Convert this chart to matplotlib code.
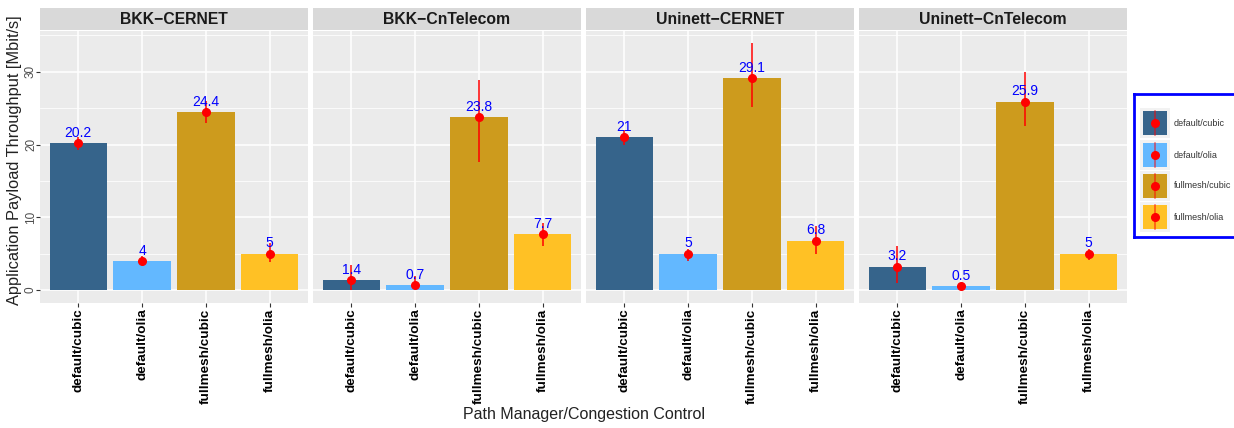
import matplotlib.pyplot as plt
import matplotlib.patches as mpatches
import numpy as np

plt.rcParams['font.family'] = ['Liberation Sans', 'DejaVu Sans']

paths = ["BKK\u2212CERNET", "BKK\u2212CnTelecom", "Uninett\u2212CERNET", "Uninett\u2212CnTelecom"]
configs = ["default/cubic", "default/olia", "fullmesh/cubic", "fullmesh/olia"]
colors = ["#36648B", "#63B8FF", "#CD9B1D", "#FFC125"]

# mean throughput per path, one value per config
mean_tp = [
    [20.2, 4.0, 24.4, 5.0],
    [1.4, 0.7, 23.8, 7.7],
    [21.0, 5.0, 29.1, 6.8],
    [3.2, 0.5, 25.9, 5.0],
]
# error bar ranges (low, high)
err_lo = [
    [19.2, 3.4, 22.9, 3.8],
    [0.0, 0.2, 17.6, 6.0],
    [19.9, 4.0, 25.1, 5.0],
    [1.0, 0.3, 22.6, 4.1],
]
err_hi = [
    [21.0, 4.7, 26.0, 6.4],
    [3.4, 1.9, 28.9, 9.2],
    [22.0, 5.7, 34.0, 8.8],
    [6.0, 0.7, 29.9, 5.7],
]
value_labels = [
    ["20.2", "4", "24.4", "5"],
    ["1.4", "0.7", "23.8", "7.7"],
    ["21", "5", "29.1", "6.8"],
    ["3.2", "0.5", "25.9", "5"],
]

W, H = 1234, 428
fig = plt.figure(figsize=(W / 100, H / 100), dpi=100)

def fx(px):
    return px / W

def fy(py):
    return 1 - py / H

panel_left = [40, 313, 586, 859]
panel_w = 268
top, strip_bot, plot_top, plot_bot = 8, 29.5, 31, 303

x = np.arange(len(configs))
for k, name in enumerate(paths):
    l = panel_left[k]
    ax = fig.add_axes([fx(l), fy(plot_bot), fx(panel_w), fy(plot_top) - fy(plot_bot)])
    ax.set_facecolor("#EBEBEB")
    for s in ax.spines.values():
        s.set_visible(False)
    ax.set_xlim(-0.6, 3.6)
    ax.set_ylim(-1.78, 35.6)
    ax.set_yticks([0, 10, 20, 30])
    ax.set_yticks([5, 15, 25, 35], minor=True)
    ax.set_xticks(x)
    ax.grid(True, which="major", color="white", linewidth=1.1)
    ax.grid(True, which="minor", axis="y", color="white", linewidth=0.55)
    ax.set_axisbelow(True)
    ax.tick_params(which="minor", length=0)
    ax.tick_params(axis="both", which="major", length=3, width=0.8, color="#333333")
    ax.tick_params(axis="y", pad=3.5)
    ax.tick_params(axis="x", pad=0.8)

    ax.bar(x, mean_tp[k], width=0.9, color=colors, zorder=2)
    y = np.array(mean_tp[k])
    lo = y - np.array(err_lo[k])
    hi = np.array(err_hi[k]) - y
    ax.errorbar(x, y, yerr=[lo, hi], fmt="o", color="red", ecolor="red",
                markersize=5.5, elinewidth=1.1, capsize=0, zorder=3)
    for xi, yi, t in zip(x, y, value_labels[k]):
        ax.text(xi, yi + 0.45, t, color="blue", fontsize=10, ha="center", va="bottom", zorder=4)

    ax.set_xticklabels(configs, rotation=90, fontsize=9.7, fontweight="bold", color="black")
    if k == 0:
        ax.set_yticklabels(["0", "10", "20", "30"], rotation=90, va="center", ha="center",
                           fontsize=8.5, color="#4D4D4D")
    else:
        ax.set_yticklabels([])
        ax.tick_params(axis="y", length=0)

    # facet strip
    sax = fig.add_axes([fx(l), fy(strip_bot), fx(panel_w), fy(top) - fy(strip_bot)])
    sax.set_facecolor("#D9D9D9")
    sax.set_xticks([])
    sax.set_yticks([])
    for s in sax.spines.values():
        s.set_visible(False)
    sax.text(0.5, 0.45, name, ha="center", va="center", fontsize=11.3,
             fontweight="bold", color="#1A1A1A", transform=sax.transAxes)

fig.text(fx(584), fy(414), "Path Manager/Congestion Control", ha="center", va="center",
         fontsize=11.5, color="#222222")
fig.text(fx(15), fy(160), "Application Payload Throughput [Mbit/s]", ha="center", va="center",
         rotation=90, fontsize=11.8, color="#222222")

# legend box
lax = fig.add_axes([fx(1134), fy(237), fx(110), fy(94) - fy(237)])
lax.set_xlim(0, 110)
lax.set_ylim(143, 0)
lax.set_xticks([])
lax.set_yticks([])
for s in lax.spines.values():
    s.set_color("blue")
    s.set_linewidth(2)
row_y = [29, 61, 92, 123]
for cy, c, lab in zip(row_y, colors, configs):
    lax.add_patch(mpatches.Rectangle((6, cy - 15), 30, 30, facecolor="#F2F2F2", edgecolor="none"))
    lax.add_patch(mpatches.Rectangle((9, cy - 12), 24, 24, facecolor=c, edgecolor="none"))
    lax.plot([21, 21], [cy - 12, cy + 12], color="red", alpha=0.6, linewidth=1.1)
    lax.plot([21], [cy], "o", color="red", markersize=5.5)
    lax.text(40, cy, lab, fontsize=6.5, va="center", ha="left", color="#333333")

fig.savefig("out.png", dpi=100)
